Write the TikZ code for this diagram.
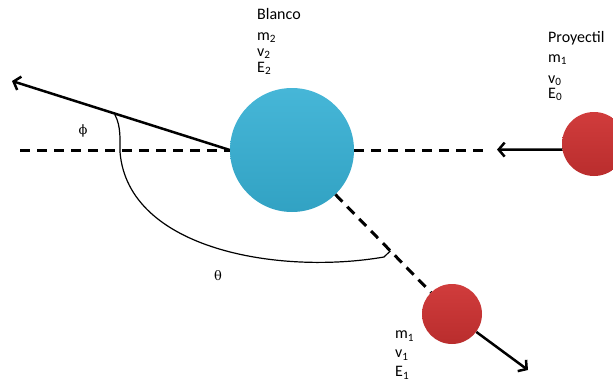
\documentclass[tikz,border=0pt]{standalone}
\usepackage{fontspec}
\setmainfont{Carlito}
\newfontfamily\griego{DejaVu Serif}
\usepackage{tikz}
\usetikzlibrary{arrows.meta, calc, positioning}
\definecolor{Celeste}{RGB}{54, 176, 212}
\definecolor{Rojo}{RGB}{206, 50, 50}

\begin{document}
\begin{tikzpicture}[x=1pt, y=-1pt,
        bola/.style={circle, inner sep=0pt, draw=none},
        flecha/.style={line width=2.5pt, ->, >={Straight Barb[length=6pt, width=14pt]}, draw=black},
        discont/.style={line width=3pt, dash pattern=on 10pt off 7pt, draw=black},
        arco/.style={line width=1.2pt, draw=black},
        etiqueta/.style={anchor=north west, align=left, inner sep=0pt, font=\fontsize{16}{19}\selectfont},
        griega/.style={font=\griego\fontsize{13}{13}\selectfont}
    ]
        \useasboundingbox (0,0) rectangle (613,389);

        % ================= BOLAS =================
        \node[bola, minimum size=124pt, top color=Celeste!92!white, bottom color=Celeste!92!black] (blanco) at (292,150) {};
        \node[bola, minimum size=64pt, top color=Rojo!95!white, bottom color=Rojo!90!black] (proy) at (594,144) {};
        \node[bola, minimum size=60pt, top color=Rojo!95!white, bottom color=Rojo!90!black] (disp) at (452,314) {};

        % ================= LINEAS =================
        \coordinate (izq) at (20,150);
        \coordinate (der) at (488,150);
        \coordinate (punta) at (497,149.6);
        \coordinate (salida) at (12,81);
        \coordinate (fuga) at (528,370);

        \draw[discont] (izq) -- (blanco.west);
        \draw[discont] (blanco.east) -- (der);
        \draw[flecha] (proy.190) -- (punta);
        \draw[flecha] (blanco.west) -- (salida);
        \draw[discont] (blanco) -- (disp);
        \draw[flecha] (disp) -- (fuga);

        % Arcos de los angulos
        \coordinate (finTheta) at ($(blanco.center)!0.615!(disp.center)$);
        \draw[arco] (115,115) .. controls (121,126) and (120,140) .. (120,152);
        \draw[arco] (120,152) .. controls (128,250) and (280,275) .. (384,257) -- (finTheta);

        \node[griega] (phi) at (83,131) {ϕ};
        \node[griega] (theta) at (218,276) {θ};

        % ================= TEXTOS =================
        \node[etiqueta] (txtBlanco) at (257,8) {Blanco\\[2pt]m\textsubscript{2}\\[-3pt]v\textsubscript{2}\\[-3pt]E\textsubscript{2}};
        \node[etiqueta] (txtProy) at (548,31) {Proyectil\\[1pt]m\textsubscript{1}\\[2pt]v\textsubscript{0}\\[-4pt]E\textsubscript{0}};
        \node[etiqueta] (txtDisp) at (395,331) {m\textsubscript{1}\\v\textsubscript{1}\\E\textsubscript{1}};
    \end{tikzpicture}
\end{document}
